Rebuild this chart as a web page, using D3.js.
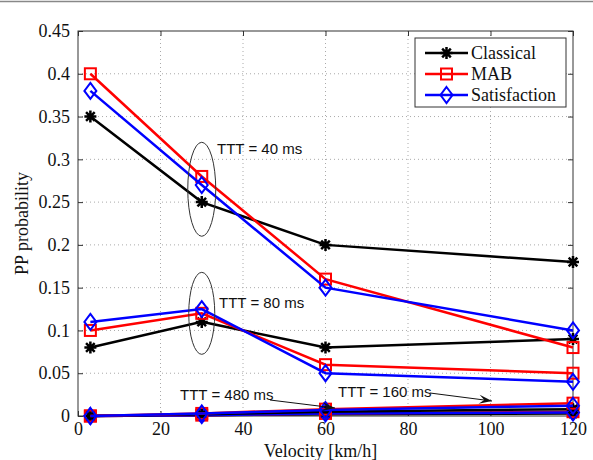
<!DOCTYPE html>
<html><head><meta charset="utf-8">
<script src="https://cdn.jsdelivr.net/npm/d3@7"></script>
<style>body{margin:0;background:#fff}</style>
</head><body>
<svg id="c" width="593" height="460"></svg>
<script>
const velocity = [3, 30, 60, 120];
const xTicks = [0, 20, 40, 60, 80, 100, 120];
const yTicks = [0, 0.05, 0.1, 0.15, 0.2, 0.25, 0.3, 0.35, 0.4, 0.45];
const yTickLabels = ["0","0.05","0.1","0.15","0.2","0.25","0.3","0.35","0.4","0.45"];
const seriesNames = ["Classical", "MAB", "Satisfaction"];
const seriesColors = ["#000000", "#ff0000", "#0000ff"];
// TTT = 40 ms
const classical40 = [0.35, 0.25, 0.20, 0.18];
const mab40 = [0.40, 0.28, 0.16, 0.08];
const satisfaction40 = [0.38, 0.27, 0.15, 0.10];
// TTT = 80 ms
const classical80 = [0.08, 0.11, 0.08, 0.09];
const mab80 = [0.10, 0.12, 0.06, 0.05];
const satisfaction80 = [0.11, 0.125, 0.05, 0.04];
// TTT = 160 ms
const classical160 = [0.0, 0.002, 0.005, 0.008];
const mab160 = [0.0, 0.003, 0.008, 0.015];
const satisfaction160 = [0.0, 0.003, 0.007, 0.012];
// TTT = 480 ms
const classical480 = [0.0, 0.001, 0.002, 0.003];
const mab480 = [0.0, 0.001, 0.003, 0.005];
const satisfaction480 = [0.0, 0.001, 0.003, 0.004];
const annotations = ["TTT = 40 ms", "TTT = 80 ms", "TTT = 480 ms", "TTT = 160 ms"];

const groups = [
  [classical40, mab40, satisfaction40],
  [classical80, mab80, satisfaction80],
  [classical160, mab160, satisfaction160],
  [classical480, mab480, satisfaction480]
];

const svg = d3.select("#c");
const L = 78, R = 573, T = 31, B = 416;
const x = d3.scaleLinear().domain([0, 120]).range([L, R]);
const y = d3.scaleLinear().domain([0, 0.45]).range([B, T]);

svg.append("line").attr("x1",0).attr("x2",593).attr("y1",1.5).attr("y2",1.5).attr("stroke","#888").attr("stroke-width",1.5);

const grid = svg.append("g");
xTicks.slice(1, -1).forEach(t => grid.append("line").attr("x1", x(t)).attr("x2", x(t)).attr("y1", T).attr("y2", B)
  .attr("stroke", "#aaa").attr("stroke-width", 1).attr("stroke-dasharray", "1,3"));
yTicks.slice(1, -1).forEach(t => grid.append("line").attr("x1", L).attr("x2", R).attr("y1", y(t)).attr("y2", y(t))
  .attr("stroke", "#aaa").attr("stroke-width", 1).attr("stroke-dasharray", "1,3"));

const font = "'Liberation Serif', 'Times New Roman', Times, serif";
const xAxis = svg.append("g").attr("transform", `translate(0,${B})`)
  .call(d3.axisBottom(x).tickValues(xTicks).tickSize(-5).tickPadding(6).tickFormat(d3.format("d")));
const xAxisTop = svg.append("g").attr("transform", `translate(0,${T})`)
  .call(d3.axisTop(x).tickValues(xTicks).tickSize(-5).tickFormat(""));
const yAxis = svg.append("g").attr("transform", `translate(${L},0)`)
  .call(d3.axisLeft(y).tickValues(yTicks).tickSize(-5).tickPadding(8).tickFormat((d, i) => yTickLabels[i]));
const yAxisR = svg.append("g").attr("transform", `translate(${R},0)`)
  .call(d3.axisRight(y).tickValues(yTicks).tickSize(-5).tickFormat(""));
[xAxis, xAxisTop, yAxis, yAxisR].forEach(a => {
  a.attr("font-family", null).attr("font-size", null);
  a.select(".domain").remove();
  a.selectAll("line").attr("stroke", "#333");
  a.selectAll("text").style("font-family", font).style("font-size", "18px").attr("fill", "#111");
});
svg.append("rect").attr("x", L).attr("y", T).attr("width", R - L).attr("height", B - T)
  .attr("fill", "none").attr("stroke", "#333").attr("stroke-width", 1);

svg.append("text").attr("x", (L + R) / 2 - 5).attr("y", 457).attr("text-anchor", "middle")
  .style("font-family", font).style("font-size", "18px").attr("fill", "#111").text("Velocity [km/h]");
svg.append("text").attr("transform", `translate(28,${(T + B) / 2}) rotate(-90)`).attr("text-anchor", "middle")
  .style("font-family", font).style("font-size", "18px").attr("fill", "#111").text("PP probability");

function marker(g, kind, cx, cy, color) {
  if (kind === 0) {
    const r = 6;
    const p = `M${cx - r},${cy}L${cx + r},${cy}M${cx},${cy - r}L${cx},${cy + r}` +
      `M${cx - r * 0.72},${cy - r * 0.72}L${cx + r * 0.72},${cy + r * 0.72}M${cx - r * 0.72},${cy + r * 0.72}L${cx + r * 0.72},${cy - r * 0.72}`;
    g.append("path").attr("d", p).attr("stroke", color).attr("stroke-width", 2.5).attr("fill", "none");
  } else if (kind === 1) {
    g.append("rect").attr("x", cx - 5.5).attr("y", cy - 5.5).attr("width", 11).attr("height", 11)
      .attr("fill", "none").attr("stroke", color).attr("stroke-width", 2);
  } else {
    g.append("path").attr("d", `M${cx},${cy - 8}L${cx + 6},${cy}L${cx},${cy + 8}L${cx - 6},${cy}Z`)
      .attr("fill", "none").attr("stroke", color).attr("stroke-width", 2);
  }
}

const line = d3.line().x((d, i) => x(velocity[i])).y(d => y(d));
const plot = svg.append("g");
groups.slice().reverse().forEach(gr => {
  gr.forEach((vals, si) => {
    plot.append("path").datum(vals).attr("d", line).attr("fill", "none")
      .attr("stroke", seriesColors[si]).attr("stroke-width", 2.5);
    vals.forEach((v, i) => marker(plot, si, x(velocity[i]), y(v), seriesColors[si]));
  });
});

const af = "'Liberation Sans', Arial, Helvetica, sans-serif";
svg.append("ellipse").attr("cx", x(30)).attr("cy", y(0.265)).attr("rx", 14).attr("ry", 47)
  .attr("fill", "none").attr("stroke", "#333").attr("stroke-width", 1);
svg.append("ellipse").attr("cx", x(30)).attr("cy", y(0.12)).attr("rx", 13).attr("ry", 41)
  .attr("fill", "none").attr("stroke", "#333").attr("stroke-width", 1);
function note(tx, ty, s) {
  svg.append("text").attr("x", tx).attr("y", ty).style("font-family", af).style("font-size", "15px").attr("fill", "#111").text(s);
}
note(217, 154, annotations[0]);
note(219, 308, annotations[1]);
note(180, 400, annotations[2]);
note(338, 397, annotations[3]);

function arrow(x1, y1, x2, y2) {
  svg.append("line").attr("x1", x1).attr("y1", y1).attr("x2", x2).attr("y2", y2).attr("stroke", "#111").attr("stroke-width", 1);
  const a = Math.atan2(y2 - y1, x2 - x1), len = 13, w = 4.5;
  const bx = x2 - len * Math.cos(a), by = y2 - len * Math.sin(a);
  const px = -Math.sin(a) * w, py = Math.cos(a) * w;
  const mx = x2 - len * 0.6 * Math.cos(a), my = y2 - len * 0.6 * Math.sin(a);
  svg.append("path").attr("d", `M${x2},${y2}L${bx + px},${by + py}L${mx},${my}L${bx - px},${by - py}Z`).attr("fill", "#111");
}
arrow(270, 400, 335, 408);
arrow(430, 393, 492, 401);

const lg = svg.append("g");
lg.append("rect").attr("x", 415).attr("y", 38).attr("width", 151).attr("height", 69)
  .attr("fill", "#fff").attr("stroke", "#333").attr("stroke-width", 1);
seriesNames.forEach((n, i) => {
  const ly = 53 + i * 21;
  lg.append("line").attr("x1", 425).attr("x2", 468).attr("y1", ly).attr("y2", ly).attr("stroke", seriesColors[i]).attr("stroke-width", 2.5);
  marker(lg, i, 446.5, ly, seriesColors[i]);
  lg.append("text").attr("x", 471).attr("y", ly + 6).style("font-family", font).style("font-size", "18px").attr("fill", "#111").text(n);
});
</script>
</body></html>
